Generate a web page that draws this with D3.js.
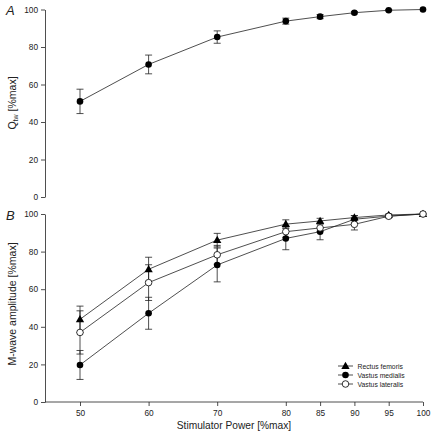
<!DOCTYPE html>
<html>
<head>
<meta charset="utf-8">
<script src="https://cdn.jsdelivr.net/npm/d3@7"></script>
<style>
  html, body { margin: 0; padding: 0; background: #fff; }
  svg { display: block; font-family: "Liberation Sans", Arial, sans-serif; }
</style>
</head>
<body>
<svg id="chart" width="431" height="439"></svg>
<script>
// ---- data ----
const powers = [50, 60, 70, 80, 85, 90, 95, 100];
const xTicks = [50, 60, 70, 80, 85, 90, 95, 100];
const yTicks = [0, 20, 40, 60, 80, 100];

const qtwMean = [51, 70.7, 85.3, 93.8, 96.2, 98.3, 99.6, 100];
const qtwSd   = [6.5, 5, 3.3, 1.6, 1.1, 0.6, 0.4, 0];

const rfMean = [44, 70.6, 86.1, 94.6, 96.3, 98.1, 99.5, 100];
const rfSd   = [7, 6.4, 3.6, 2.3, 1.4, 1, 0.5, 0];
const vmMean = [19.7, 47.2, 72.9, 87, 90.6, 97.2, 98.9, 100];
const vmSd   = [7.7, 8.5, 9, 6, 4.3, 2, 0.6, 0];
const vlMean = [37, 63.5, 78.3, 90.6, 92.6, 94.5, 98.8, 100];
const vlSd   = [11.5, 9.5, 5, 3, 2, 3, 0.8, 0];

const seriesNames = ["Rectus femoris", "Vastus medialis", "Vastus lateralis"];
const seriesShapes = ["triangle", "filled", "open"];

// ---- layout ----
const svg = d3.select("#chart");
const x = d3.scaleLinear().domain([50, 100]).range([80, 423]);
const xAxisStart = 45;
const yA = d3.scaleLinear().domain([0, 100]).range([197, 9.5]);
const yB = d3.scaleLinear().domain([0, 100]).range([402, 214]);
const ink = "#222";

function drawYAxis(y) {
  const g = svg.append("g").attr("transform", `translate(${xAxisStart},0)`)
    .call(d3.axisLeft(y).tickValues(yTicks).tickSize(4).tickPadding(3).tickSizeOuter(0));
  g.select(".domain").attr("stroke", ink).attr("stroke-width", 0.8);
  g.selectAll(".tick line").attr("stroke", ink).attr("stroke-width", 0.8);
  g.selectAll(".tick text").attr("font-size", 8.3).attr("fill", ink)
    .attr("font-family", "'Liberation Sans', Arial, sans-serif");
  return g;
}

function marker(g, shape, cx, cy) {
  if (shape === "triangle") {
    g.append("path").attr("d", d3.symbol().type(d3.symbolTriangle).size(30)())
      .attr("transform", `translate(${cx},${cy + 0.5})`).attr("fill", "#000");
  } else if (shape === "filled") {
    g.append("circle").attr("cx", cx).attr("cy", cy).attr("r", 3.3).attr("fill", "#000");
  } else {
    g.append("circle").attr("cx", cx).attr("cy", cy).attr("r", 3.3)
      .attr("fill", "#fff").attr("stroke", "#000").attr("stroke-width", 0.8);
  }
}

function drawSeries(y, means, sds) {
  const g = svg.append("g");
  powers.forEach((p, i) => {
    if (sds[i] <= 0) return;
    const cx = x(p), t = y(means[i] + sds[i]), b = y(means[i] - sds[i]);
    g.append("line").attr("x1", cx).attr("x2", cx).attr("y1", t).attr("y2", b)
      .attr("stroke", ink).attr("stroke-width", 0.8);
    [t, b].forEach(yy => g.append("line").attr("x1", cx - 3.5).attr("x2", cx + 3.5)
      .attr("y1", yy).attr("y2", yy).attr("stroke", ink).attr("stroke-width", 0.8));
  });
  const line = d3.line().x((d, i) => x(powers[i])).y(d => y(d));
  g.append("path").datum(means).attr("d", line).attr("fill", "none")
    .attr("stroke", ink).attr("stroke-width", 0.8);
  return g;
}

function drawMarkers(y, means, shape) {
  const g = svg.append("g");
  powers.forEach((p, i) => marker(g, shape, x(p), y(means[i])));
}

// ---- panel A ----
drawYAxis(yA);
drawSeries(yA, qtwMean, qtwSd);
drawMarkers(yA, qtwMean, "filled");

svg.append("text").attr("x", 6).attr("y", 15).attr("font-size", 13)
  .attr("font-style", "italic").attr("fill", ink).text("A");

const tA = svg.append("text").attr("transform", `translate(15.5,103) rotate(-90)`)
  .attr("text-anchor", "middle").attr("font-size", 10.5).attr("fill", ink);
tA.append("tspan").text("Q");
tA.append("tspan").attr("font-size", 7).attr("dy", 2.5).text("tw");
tA.append("tspan").attr("dy", -2.5).text(" [%max]");

// ---- panel B ----
drawYAxis(yB);
const gx = svg.append("g").attr("transform", `translate(0,402)`)
  .call(d3.axisBottom(x).tickValues(xTicks).tickSize(4).tickPadding(4).tickSizeOuter(0));
gx.select(".domain").attr("d", `M${xAxisStart},0H${x(100)}`).attr("stroke", ink).attr("stroke-width", 0.8);
gx.selectAll(".tick line").attr("stroke", ink).attr("stroke-width", 0.8);
gx.selectAll(".tick text").attr("font-size", 8.3).attr("fill", ink)
  .attr("font-family", "'Liberation Sans', Arial, sans-serif");

const bMeans = [rfMean, vmMean, vlMean];
const bSds = [rfSd, vmSd, vlSd];
bMeans.forEach((m, k) => drawSeries(yB, m, bSds[k]));
bMeans.forEach((m, k) => drawMarkers(yB, m, seriesShapes[k]));

svg.append("text").attr("x", 6).attr("y", 220).attr("font-size", 13)
  .attr("font-style", "italic").attr("fill", ink).text("B");

svg.append("text").attr("transform", `translate(15.5,304) rotate(-90)`)
  .attr("text-anchor", "middle").attr("font-size", 10.5).attr("fill", ink)
  .text("M-wave amplitude [%max]");

svg.append("text").attr("x", 234).attr("y", 428.5).attr("text-anchor", "middle")
  .attr("font-size", 10.2).attr("fill", ink).text("Stimulator Power [%max]");

// legend
const leg = svg.append("g");
seriesNames.forEach((name, k) => {
  const ly = 366 + k * 9;
  leg.append("line").attr("x1", 338).attr("x2", 353).attr("y1", ly).attr("y2", ly)
    .attr("stroke", ink).attr("stroke-width", 0.8);
  marker(leg, seriesShapes[k], 345.5, ly);
  leg.append("text").attr("x", 357.5).attr("y", ly + 2.5).attr("font-size", 6.8)
    .attr("fill", ink).text(name);
});
</script>
</body>
</html>
